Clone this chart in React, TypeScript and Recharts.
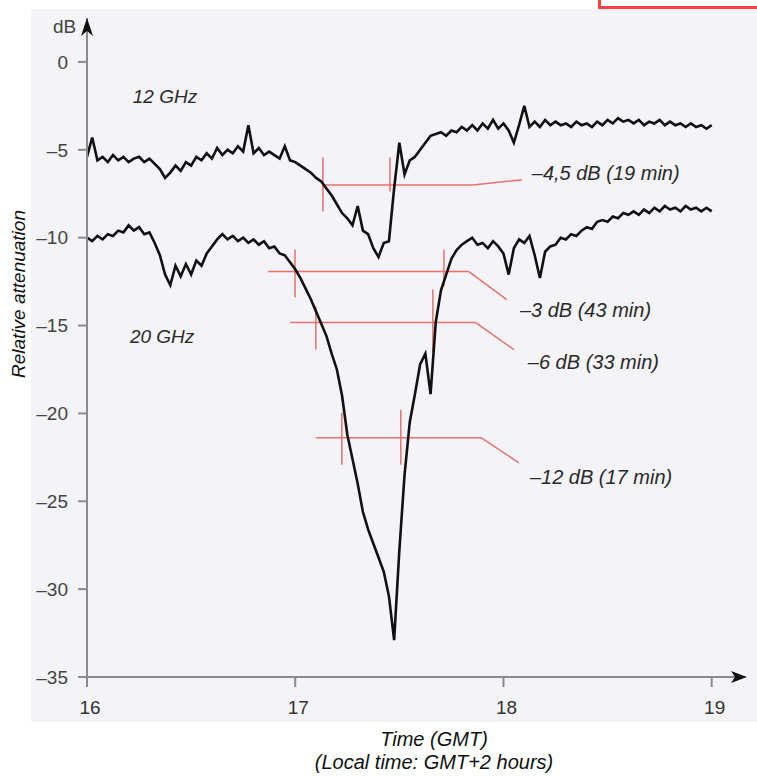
import React from 'react';
import {
  LineChart,
  Line,
  XAxis,
  YAxis,
  ReferenceLine,
  ReferenceDot,
} from 'recharts';

// time in hours GMT (one reading every 1.5 min)
const TIME = [
  16.0, 16.025, 16.05, 16.075, 16.1, 16.125, 16.15, 16.175, 16.2, 16.225,
  16.25, 16.275, 16.3, 16.325, 16.35, 16.375, 16.4, 16.425, 16.45, 16.475,
  16.5, 16.525, 16.55, 16.575, 16.6, 16.625, 16.65, 16.675, 16.7, 16.725,
  16.75, 16.775, 16.8, 16.825, 16.85, 16.875, 16.9, 16.925, 16.95, 16.975,
  17.0, 17.025, 17.05, 17.075, 17.1, 17.125, 17.15, 17.175, 17.2, 17.225,
  17.25, 17.275, 17.3, 17.325, 17.35, 17.375, 17.4, 17.425, 17.45, 17.475,
  17.5, 17.525, 17.55, 17.575, 17.6, 17.625, 17.65, 17.675, 17.7, 17.725,
  17.75, 17.775, 17.8, 17.825, 17.85, 17.875, 17.9, 17.925, 17.95, 17.975,
  18.0, 18.025, 18.05, 18.075, 18.1, 18.125, 18.15, 18.175, 18.2, 18.225,
  18.25, 18.275, 18.3, 18.325, 18.35, 18.375, 18.4, 18.425, 18.45, 18.475,
  18.5, 18.525, 18.55, 18.575, 18.6, 18.625, 18.65, 18.675, 18.7, 18.725,
  18.75, 18.775, 18.8, 18.825, 18.85, 18.875, 18.9, 18.925, 18.95, 18.975,
  19.0,
];

// relative attenuation, dB
const GHZ12 = [
  -5.4, -4.3, -5.6, -5.4, -5.7, -5.3, -5.6, -5.4, -5.7, -5.5,
  -5.4, -5.7, -5.5, -5.8, -6.1, -6.6, -6.3, -5.9, -6.2, -5.7,
  -5.9, -5.4, -5.6, -5.2, -5.5, -4.9, -5.3, -5.0, -5.2, -4.8,
  -5.1, -3.6, -5.2, -4.9, -5.3, -5.1, -5.3, -5.5, -4.8, -5.6,
  -5.7, -5.9, -6.1, -6.3, -6.6, -6.8, -7.2, -7.6, -8.1, -8.6,
  -8.9, -9.3, -8.2, -9.6, -9.8, -10.6, -11.1, -10.3, -10.2, -7.2,
  -4.6, -6.4, -5.6, -5.4, -5.0, -4.6, -4.2, -4.1, -4.0, -4.2,
  -3.9, -4.0, -3.7, -3.9, -3.6, -3.9, -3.5, -3.8, -3.3, -3.8,
  -3.5, -3.9, -4.6, -3.6, -2.5, -3.7, -3.4, -3.7, -3.3, -3.6,
  -3.4, -3.6, -3.5, -3.7, -3.4, -3.6, -3.5, -3.7, -3.4, -3.6,
  -3.3, -3.5, -3.2, -3.4, -3.3, -3.5, -3.3, -3.6, -3.4, -3.5,
  -3.3, -3.6, -3.4, -3.6, -3.5, -3.7, -3.5, -3.7, -3.6, -3.8,
  -3.6,
];

const GHZ20 = [
  -10.0, -10.2, -9.9, -10.1, -9.8, -9.9, -9.6, -9.7, -9.3, -9.6,
  -9.4, -9.8, -9.7, -10.3, -11.0, -12.1, -12.7, -11.6, -12.2, -11.5,
  -12.1, -11.3, -11.6, -10.9, -10.5, -10.1, -9.8, -10.1, -9.9, -10.2,
  -10.0, -10.3, -10.1, -10.4, -10.2, -10.6, -10.5, -10.9, -11.0, -11.4,
  -11.8, -12.3, -12.9, -13.5, -14.2, -14.9, -15.6, -16.6, -17.5, -19.0,
  -21.2, -22.6, -24.0, -25.6, -26.6, -27.4, -28.2, -29.0, -30.4, -32.9,
  -27.8, -23.5, -20.5, -18.9, -17.2, -16.6, -18.9, -14.8, -13.0, -12.1,
  -11.2, -10.7, -10.4, -10.2, -10.0, -10.4, -10.3, -10.6, -10.2, -10.5,
  -10.9, -12.1, -10.6, -10.1, -10.3, -9.9, -11.0, -12.3, -10.8, -10.5,
  -10.4, -10.0, -10.1, -9.8, -9.9, -9.6, -9.4, -9.5, -9.1, -9.0,
  -9.1, -8.8, -8.9, -8.6, -8.7, -8.5, -8.7, -8.4, -8.6, -8.3,
  -8.5, -8.2, -8.4, -8.3, -8.5, -8.2, -8.4, -8.3, -8.5, -8.3,
  -8.5,
];

const X_TICKS = [16, 17, 18, 19];
const Y_TICKS = [0, -5, -10, -15, -20, -25, -30, -35];

// outage annotations: label, level line, the two crossing marks
const ANN_LABELS = ['–4,5 dB (19 min)', '–3 dB (43 min)', '–6 dB (33 min)', '–12 dB (17 min)'];
const ANN_LEVEL = [-7.0, -11.93, -14.83, -21.38];
const ANN_START = [17.133, 16.869, 16.975, 17.099];
const ANN_BEND = [17.853, 17.834, 17.867, 17.892];
const ANN_END = [[18.09, -6.7], [18.016, -13.52], [18.05, -16.37], [18.074, -22.81]];
const ANN_MARKS = [
  [[17.133, -5.44, -8.51], [17.455, -5.44, -7.37]],
  [[16.999, -10.68, -13.41], [17.714, -10.68, -12.78]],
  [[17.099, -13.92, -16.37], [17.661, -12.95, -16.49]],
  [[17.224, -19.96, -22.92], [17.507, -19.79, -22.92]],
];
const ANN_TEXT_POS = [[18.136, -6.3], [18.079, -14.09], [18.117, -17.06], [18.127, -23.6]];

const SERIES_LABELS = [['12 GHz', 16.22, -1.97], ['20 GHz', 16.206, -15.63]];

const data = TIME.map((t, i) => ({ t, ghz12: GHZ12[i], ghz20: GHZ20[i] }));

const RED = '#e8716d';
const AXIS = '#8a8a8a';
const FONT = '"Liberation Sans", Arial, sans-serif';

const fmtY = (v: number) => (v === 0 ? '0' : `–${Math.abs(v)}`);

const textShape = (value: string, size = 19) => (props: any) => (
  <text
    x={props.cx}
    y={props.cy}
    dominantBaseline="central"
    fontFamily={FONT}
    fontStyle="italic"
    fontSize={size}
    fill="#2a2a2a"
  >
    {value}
  </text>
);

export default function App() {
  return (
    <div style={{ position: 'absolute', left: 0, top: 0, width: 757, height: 776, background: '#fff', overflow: 'hidden' }}>
      {/* scanned page */}
      <div style={{ position: 'absolute', left: 31, top: 9, width: 726, height: 713, background: '#f4f3f7' }} />
      <div style={{ position: 'absolute', left: 598, top: -10, width: 170, height: 13, border: '3px solid #ff4040', background: '#fff' }} />

      <LineChart
        width={757}
        height={776}
        data={data}
        margin={{ top: 18, right: 12, bottom: 59, left: 27 }}
        style={{ position: 'absolute', left: 0, top: 0 }}
      >
        <XAxis
          dataKey="t"
          type="number"
          domain={[16, 19.16]}
          ticks={X_TICKS}
          allowDataOverflow
          height={40}
          stroke={AXIS}
          strokeWidth={2}
          tickSize={10}
          tickMargin={14}
          tick={{ fill: '#333', fontSize: 19, fontFamily: FONT, dx: 3 }}
        />
        <YAxis
          type="number"
          domain={[-35, 2.5]}
          ticks={Y_TICKS}
          allowDataOverflow
          width={60}
          stroke={AXIS}
          strokeWidth={2}
          tickSize={9}
          tickMargin={10}
          tickFormatter={fmtY}
          tick={{ fill: '#444', fontSize: 19, fontFamily: FONT }}
        />

        {ANN_LABELS.map((_, i) => (
          <ReferenceLine
            key={`h${i}`}
            segment={[{ x: ANN_START[i], y: ANN_LEVEL[i] }, { x: ANN_BEND[i], y: ANN_LEVEL[i] }]}
            stroke={RED}
            strokeWidth={1.5}
            ifOverflow="visible"
          />
        ))}
        {ANN_LABELS.map((_, i) => (
          <ReferenceLine
            key={`d${i}`}
            segment={[{ x: ANN_BEND[i], y: ANN_LEVEL[i] }, { x: ANN_END[i][0], y: ANN_END[i][1] }]}
            stroke={RED}
            strokeWidth={1.5}
            ifOverflow="visible"
          />
        ))}
        {ANN_MARKS.flatMap((pair, i) =>
          pair.map((m, j) => (
            <ReferenceLine
              key={`v${i}-${j}`}
              segment={[{ x: m[0], y: m[1] }, { x: m[0], y: m[2] }]}
              stroke={RED}
              strokeWidth={1.5}
              ifOverflow="visible"
            />
          ))
        )}

        <Line dataKey="ghz12" type="linear" stroke="#111" strokeWidth={2.6} dot={false} isAnimationActive={false} />
        <Line dataKey="ghz20" type="linear" stroke="#111" strokeWidth={2.6} dot={false} isAnimationActive={false} />

        {ANN_LABELS.map((label, i) => (
          <ReferenceDot
            key={`t${i}`}
            x={ANN_TEXT_POS[i][0]}
            y={ANN_TEXT_POS[i][1]}
            ifOverflow="visible"
            shape={textShape(label, 20)}
          />
        ))}
        {SERIES_LABELS.map(([label, x, y]) => (
          <ReferenceDot
            key={label as string}
            x={x as number}
            y={y as number}
            ifOverflow="visible"
            shape={textShape(label as string, 19)}
          />
        ))}

        {/* axis arrowheads */}
        <ReferenceDot
          x={19.16}
          y={-35}
          ifOverflow="visible"
          shape={(p: any) => (
            <polygon points={`${p.cx + 2},${p.cy} ${p.cx - 14},${p.cy - 6} ${p.cx - 10},${p.cy} ${p.cx - 14},${p.cy + 6}`} fill="#111" />
          )}
        />
        <ReferenceDot
          x={16}
          y={2.5}
          ifOverflow="visible"
          shape={(p: any) => (
            <polygon points={`${p.cx},${p.cy} ${p.cx - 6},${p.cy + 18} ${p.cx},${p.cy + 13} ${p.cx + 6},${p.cy + 18}`} fill="#111" />
          )}
        />
      </LineChart>

      <div style={{ position: 'absolute', left: 53, top: 16, fontFamily: FONT, fontSize: 19, color: '#444' }}>dB</div>
      <div
        style={{
          position: 'absolute',
          left: 19,
          top: 294,
          transform: 'translate(-50%, -50%) rotate(-90deg)',
          whiteSpace: 'nowrap',
          fontFamily: FONT,
          fontStyle: 'italic',
          fontSize: 19,
          color: '#111',
        }}
      >
        Relative attenuation
      </div>
      <div
        style={{
          position: 'absolute',
          left: 434,
          top: 728,
          transform: 'translateX(-50%)',
          textAlign: 'center',
          whiteSpace: 'nowrap',
          fontFamily: FONT,
          fontStyle: 'italic',
          fontSize: 20,
          lineHeight: '23px',
          color: '#111',
        }}
      >
        Time (GMT)
        <br />
        (Local time: GMT+2 hours)
      </div>
    </div>
  );
}
